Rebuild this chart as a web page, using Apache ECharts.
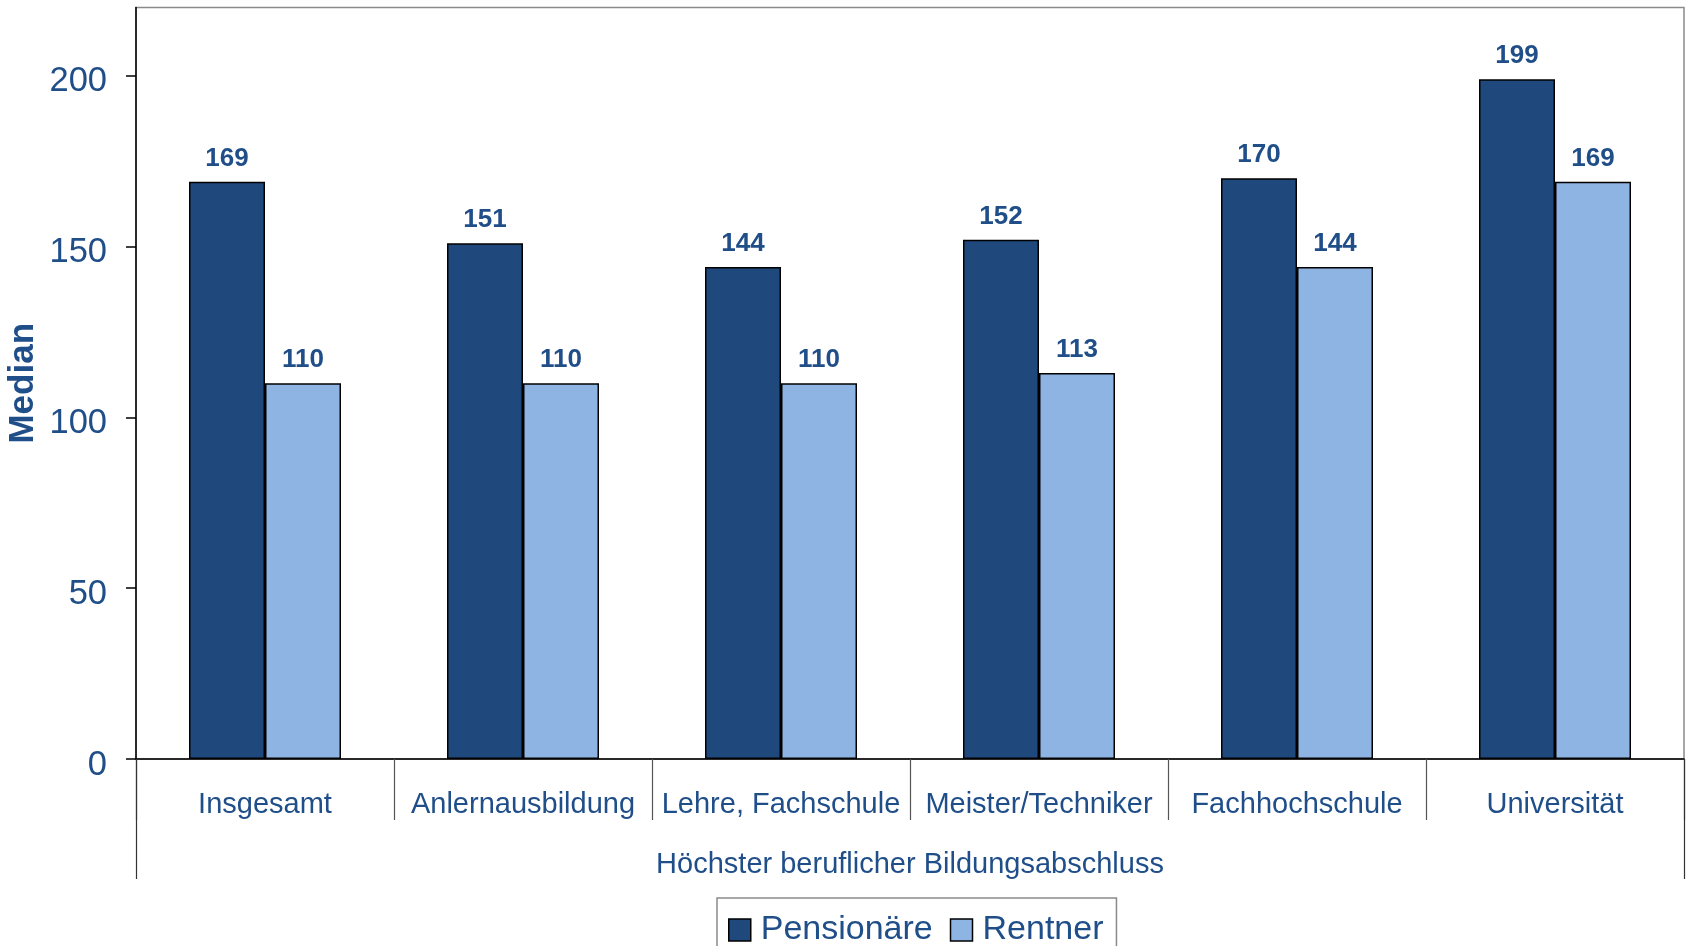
<!DOCTYPE html>
<html>
<head>
<meta charset="utf-8">
<script src="https://cdn.jsdelivr.net/npm/echarts@6/dist/echarts.min.js"></script>
<style>
  html, body { margin: 0; padding: 0; background: #fff; }
  #chart-panel { width: 1691px; height: 946px; }
</style>
</head>
<body>
<div id="chart-panel"></div>
<script>
// Daten
var categories = ['Insgesamt', 'Anlernausbildung', 'Lehre, Fachschule', 'Meister/Techniker', 'Fachhochschule', 'Universität'];
var pensionaere = [169, 151, 144, 152, 170, 199];
var rentner = [110, 110, 110, 113, 144, 169];
var yTicks = [0, 50, 100, 150, 200];
var axisTitle = ['Höchster beruflicher Bildungsabschluss'];

var textColor = '#1F4E89';
var font = "'Liberation Sans', Arial, sans-serif";

var chart = echarts.init(document.getElementById('chart-panel'));

var option = {
    animation: false,
    backgroundColor: '#fff',
    textStyle: { fontFamily: font },
    grid: {
        left: 136,
        right: 7,
        top: 7.5,
        bottom: 187,
        outerBoundsMode: 'none',
        containLabel: false,
        show: true,
        borderColor: '#8a8a8a',
        borderWidth: 1.5,
        backgroundColor: 'transparent'
    },
    legend: {
        left: 717,
        top: 898,
        padding: [15, 13, 12, 11],
        borderColor: '#8a8a8a',
        borderWidth: 1.5,
        itemWidth: 22,
        itemHeight: 22,
        itemGap: 17,
        icon: 'rect',
        itemStyle: { borderColor: '#000', borderWidth: 1.5 },
        textStyle: { fontSize: 34, color: textColor, fontFamily: font, padding: [0, 0, 0, 5] },
        data: ['Pensionäre', 'Rentner']
    },
    xAxis: [{
        type: 'category',
        data: categories,
        boundaryGap: true,
        axisLine: { show: true, lineStyle: { color: '#000', width: 1.5 } },
        axisTick: { show: true, interval: 0, alignWithLabel: false, length: 61, lineStyle: { color: '#555', width: 1.2 } },
        axisLabel: { interval: 0, margin: 31, fontSize: 29, color: textColor, fontFamily: font },
        splitLine: { show: false }
    }, {
        // zweite Ebene: Achsentitel als eine Kategorie
        type: 'category',
        position: 'bottom',
        data: axisTitle,
        boundaryGap: true,
        axisLine: { show: false },
        axisTick: { show: true, interval: 0, length: 120, lineStyle: { color: '#333', width: 1.2 } },
        axisLabel: { margin: 91, fontSize: 29, color: textColor, fontFamily: font },
        splitLine: { show: false }
    }],
    yAxis: {
        type: 'value',
        min: 0,
        max: 220,
        interval: 50,
        name: 'Median',
        nameLocation: 'middle',
        nameRotate: 90,
        nameGap: 95,
        nameMoveOverlap: false,
        nameTextStyle: { fontSize: 35, fontWeight: 'bold', color: textColor, fontFamily: font },
        axisLine: { show: true, lineStyle: { color: '#000', width: 1.5 } },
        axisTick: { show: true, inside: false, length: 10, customValues: yTicks, lineStyle: { color: '#000', width: 1.5 } },
        axisLabel: { margin: 29, fontSize: 34.5, color: textColor, fontFamily: font, customValues: yTicks, verticalAlign: 'top', lineHeight: 12 },
        splitLine: { show: false }
    },
    series: [{
        name: 'Pensionäre',
        type: 'bar',
        xAxisIndex: 0,
        data: pensionaere,
        barWidth: 76,
        barGap: '0%',
        itemStyle: { color: '#1F497D', borderColor: '#000', borderWidth: 1.5 },
        label: { show: true, position: 'top', distance: 10, fontSize: 26, fontWeight: 'bold', color: textColor, fontFamily: font }
    }, {
        name: 'Rentner',
        type: 'bar',
        xAxisIndex: 0,
        data: rentner,
        barWidth: 76,
        barGap: '0%',
        itemStyle: { color: '#8EB4E3', borderColor: '#000', borderWidth: 1.5 },
        label: { show: true, position: 'top', distance: 10, fontSize: 26, fontWeight: 'bold', color: textColor, fontFamily: font }
    }]
};

chart.setOption(option);
</script>
</body>
</html>
